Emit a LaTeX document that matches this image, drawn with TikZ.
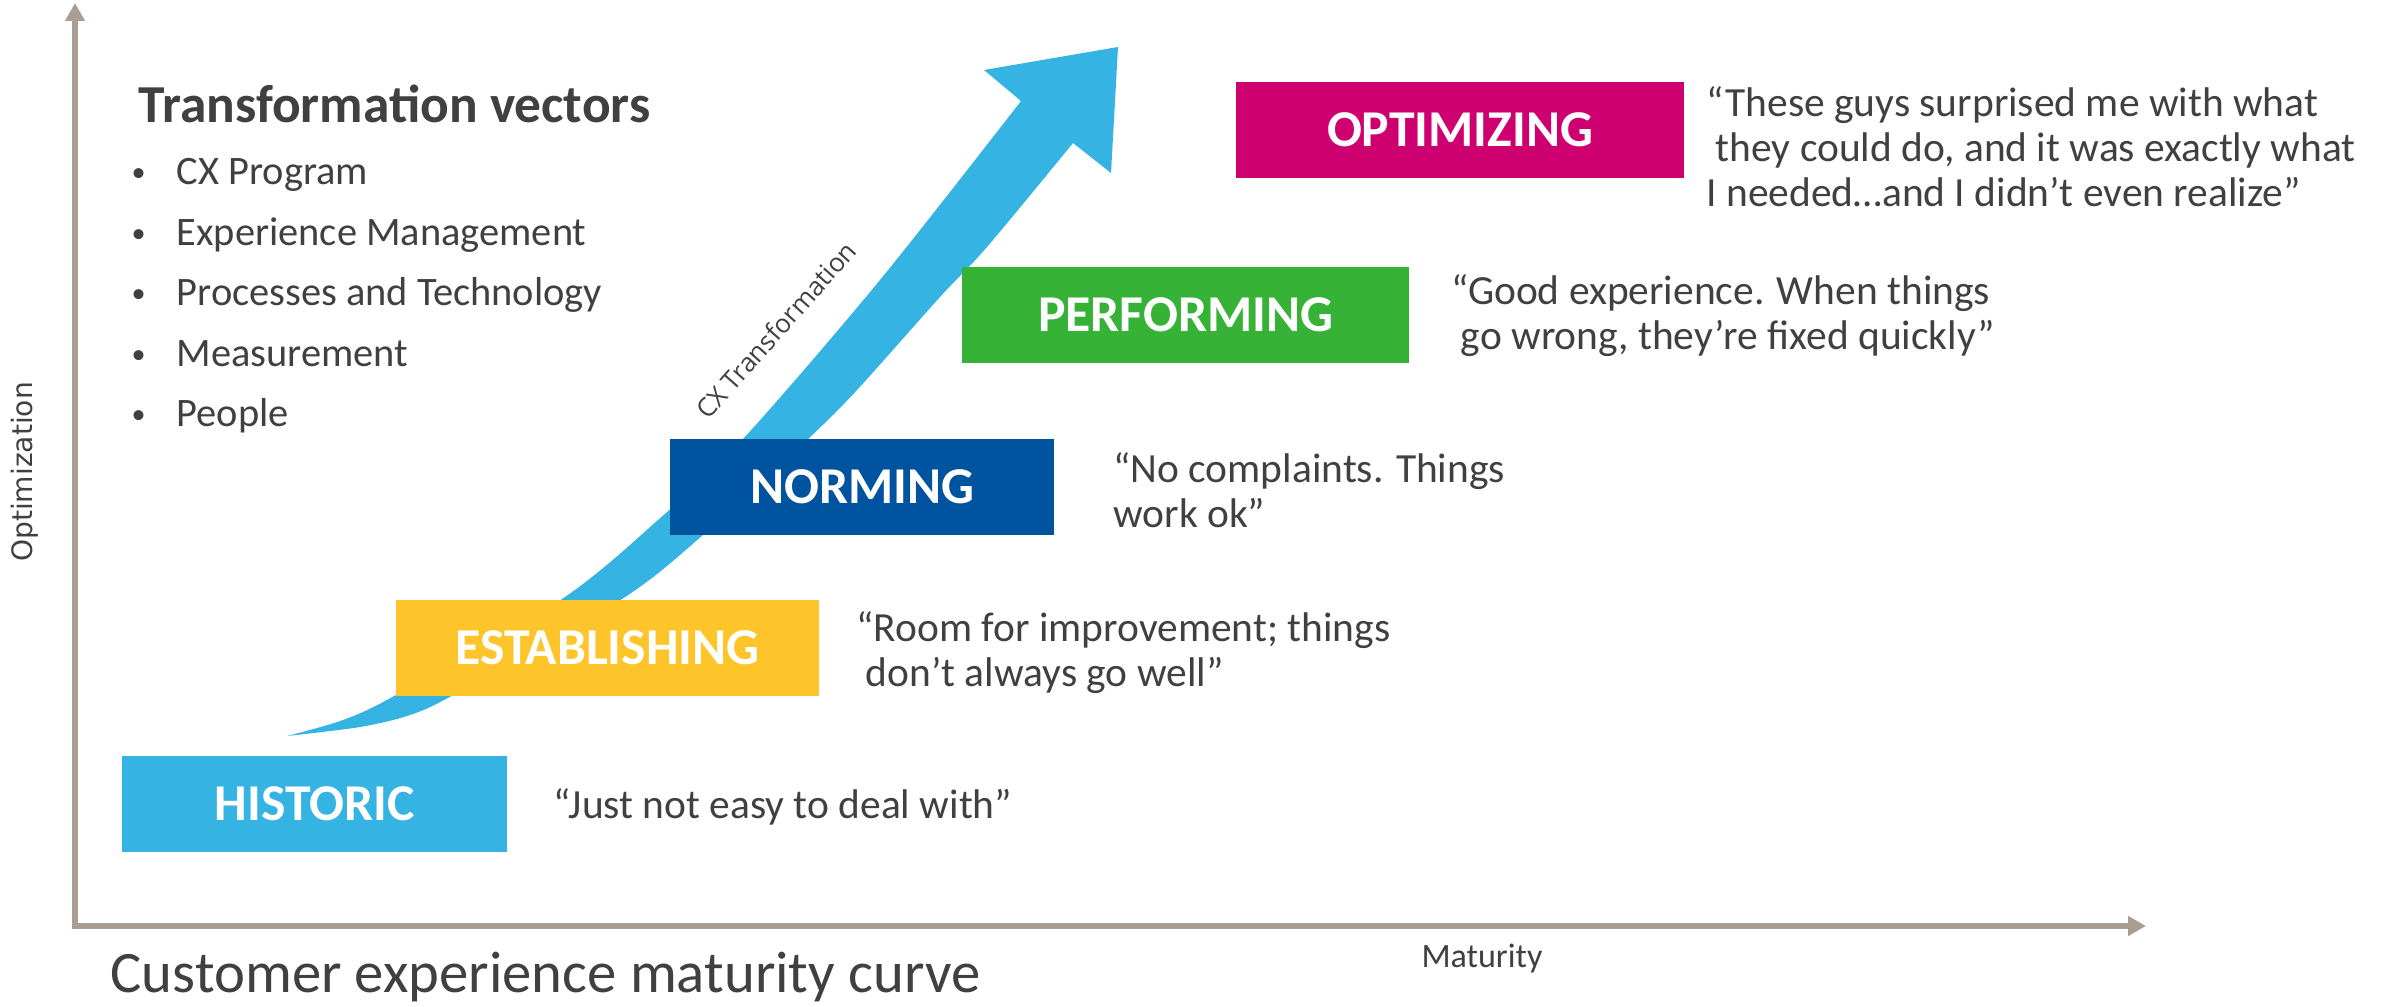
\documentclass[tikz,border=0pt]{standalone}
\usepackage{fontspec}
\setmainfont{Carlito}
\newfontfamily\axisfont{DejaVu Sans}
\newfontfamily\arrowfont{Open Sans}
\usetikzlibrary{arrows.meta, positioning}

\begin{document}
\begin{tikzpicture}[x=0.1mm, y=-0.1mm,
    stage/.style={minimum height=9.6mm, inner sep=0pt, text=white, font=\fontsize{14.7}{16}\selectfont\bfseries},
    saying/.style={anchor=west, inner sep=0pt, align=left, text=textgray, font=\fontsize{11.8}{12.8}\selectfont},
    axisline/.style={draw=axiscolor, line width=1.7pt, {Triangle[length=1.8mm, width=1.9mm]}-{Triangle[length=1.8mm, width=1.9mm]}}]
    % Define consistent colors
    \definecolor{historiccolor}{RGB}{53,179,227}
    \definecolor{establishingcolor}{RGB}{254,197,43}
    \definecolor{normingcolor}{RGB}{0,83,159}
    \definecolor{performingcolor}{RGB}{54,178,54}
    \definecolor{optimizingcolor}{RGB}{206,0,112}
    \definecolor{textgray}{RGB}{64,64,64}
    \definecolor{axiscolor}{RGB}{170,157,145}

    \useasboundingbox (0,0) rectangle (2386,1007);

    % Axes
    \coordinate (ytip) at (75,3);
    \coordinate (origin) at (75,926);
    \coordinate (xtip) at (2146,926);
    \draw[axisline] (ytip) -- (origin) -- (xtip);
    \node[rotate=90, inner sep=0pt, text=textgray, font=\axisfont\fontsize{8}{9}\selectfont] (optlabel) at (25,472) {Optimization};
    \node[anchor=base, inner sep=0pt, text=textgray, font=\fontsize{9.7}{11}\selectfont] (maturitylabel) at (1482,967) {Maturity};

    % Transformation arrow behind the stages
    \fill[historiccolor] plot[smooth, tension=0.5] coordinates {(287,736) (343,720) (396,695) (562,599) (658,520) (743,439) (880,280) (1021,101)}
        -- (984,70) -- (1118,47) -- (1111,173)
        -- plot[smooth, tension=0.5] coordinates {(1073,143) (987,247) (940,297) (857,390) (808,439) (703,535) (622,599) (457,693) (410,715) (360,727) (287,736)} -- cycle;
    \node[rotate=48.5, inner sep=0pt, text=textgray, font=\arrowfont\fontsize{7.4}{9}\selectfont] (arrowlabel) at (776,330) {CX Transformation};

    % Maturity stages
    \node[stage, fill=historiccolor, minimum width=38.5mm] (historic) at (314.5,804) {HISTORIC};
    \node[stage, fill=establishingcolor, minimum width=42.3mm] (establishing) at (607.5,647.5) {ESTABLISHING};
    \node[stage, fill=normingcolor, minimum width=38.4mm] (norming) at (862,487) {NORMING};
    \node[stage, fill=performingcolor, minimum width=44.7mm] (performing) at (1185.5,315) {PERFORMING};
    \node[stage, fill=optimizingcolor, minimum width=44.8mm] (optimizing) at (1460,130) {OPTIMIZING};

    % What customers say at each stage
    \node[saying, right=4.5mm of historic, yshift=-0.3mm] (historicsaying) {“Just not easy to deal with”};
    \node[saying, right=3.6mm of establishing, yshift=-0.55mm] (establishingsaying)
        {“Room for improvement; things\\\hspace*{2.7pt}don’t always go well”};
    \node[saying, right=5.8mm of norming, yshift=-0.3mm] (normingsaying)
        {“No complaints. Things\\work ok”};
    \node[saying, right=4.1mm of performing, yshift=-0.1mm] (performingsaying)
        {“Good experience. When things\\\hspace*{2.7pt}go wrong, they’re fixed quickly”};
    \node[saying, right=2.1mm of optimizing, yshift=-1.7mm] (optimizingsaying)
        {“These guys surprised me with what\\\hspace*{2.7pt}they could do, and it was exactly what\\I needed…and I didn’t even realize”};

    % Transformation vectors list
    \node[anchor=base west, inner sep=0pt, text=textgray, font=\fontsize{15.2}{18}\selectfont\bfseries] (vectorstitle) at (138,123) {Transformation vectors};
    \foreach \vname [count=\i] in {CX Program, Experience Management, Processes and Technology, Measurement, People}
        \node[anchor=base west, inner sep=0pt, text=textgray, font=\fontsize{11.5}{14}\selectfont] (vector\i) at (131,124.5+60.5*\i)
            {\makebox[4.5mm][l]{\raisebox{0.9pt}{\fontsize{8}{8}\selectfont\textbullet}}\vname};

    % Title
    \node[anchor=base west, inner sep=0pt, text=textgray, font=\fontsize{16.7}{20}\selectfont] (curvetitle) at (110,992) {Customer experience maturity curve};
\end{tikzpicture}
\end{document}
